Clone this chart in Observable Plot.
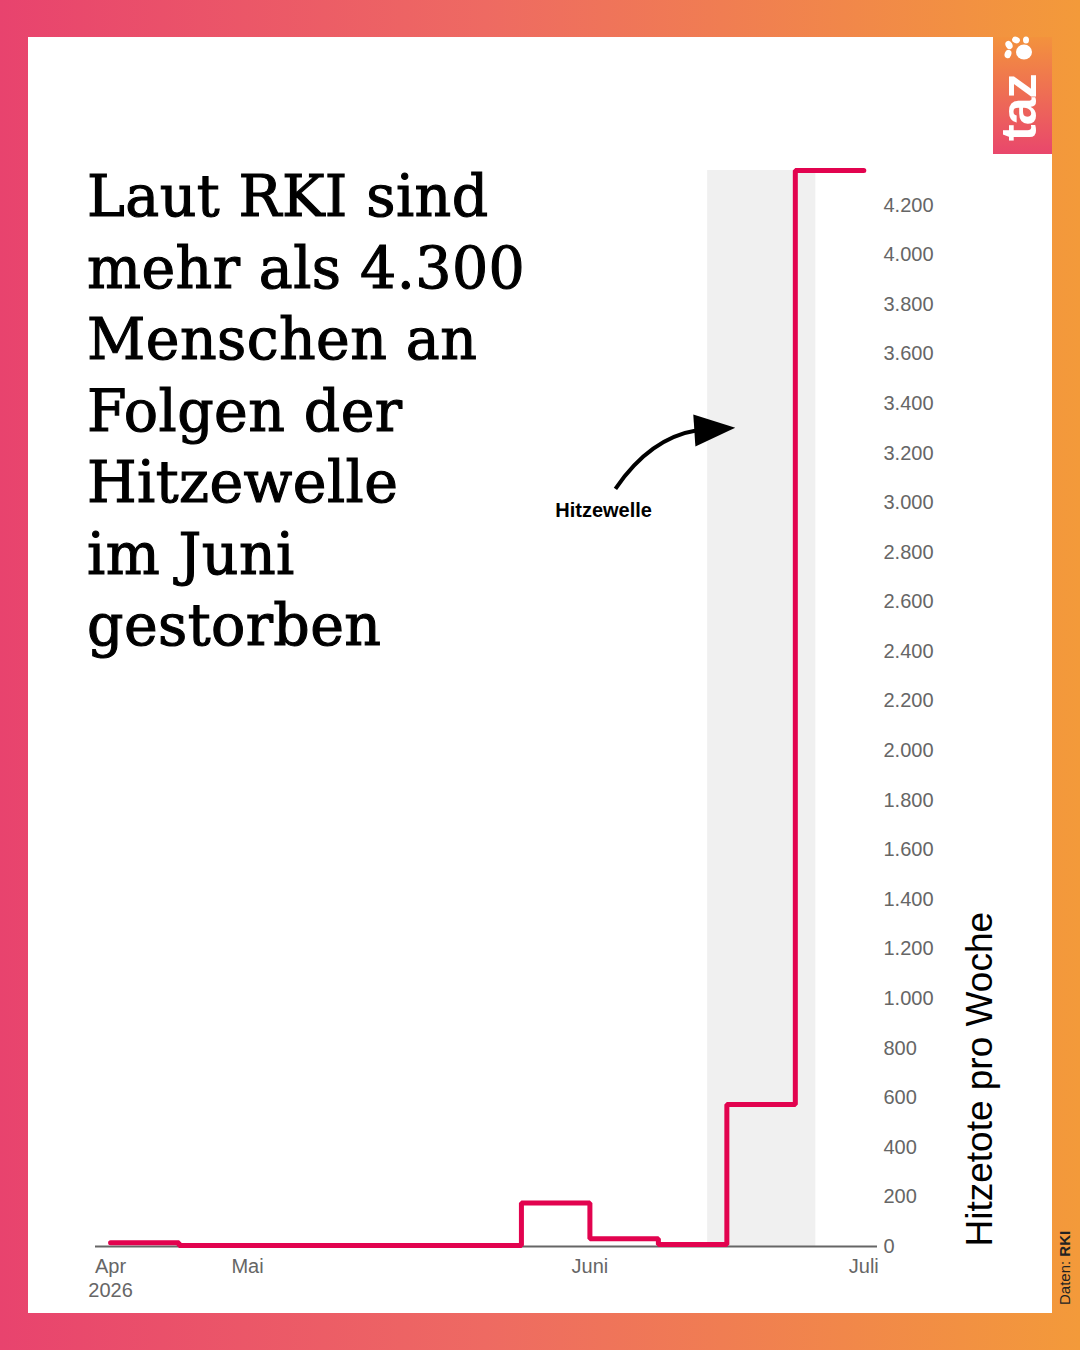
<!DOCTYPE html>
<html>
<head>
<meta charset="utf-8">
<script src="https://cdn.jsdelivr.net/npm/d3@7"></script>
<script src="https://cdn.jsdelivr.net/npm/@observablehq/plot@0.6"></script>
<style>
  html, body { margin: 0; padding: 0; background: #fff; }
  #page { position: relative; width: 1080px; height: 1350px; overflow: hidden;
          background: linear-gradient(90deg, #e8436e 0%, #ee6a62 45%, #f39a3a 100%); }
  #card { position: absolute; left: 28px; top: 37px; width: 1024px; height: 1276px; background: #fff; }
  #chart { position: absolute; left: 0; top: 0; }
  #title { position: absolute; left: 87px; top: 161px; font-family: "DejaVu Serif", serif;
           font-size: 57px; line-height: 71.5px; color: #000; margin: 0; font-weight: normal;
           letter-spacing: 0.4px; -webkit-text-stroke: 1.1px #000; }
  #deco { position: absolute; left: 0; top: 0; pointer-events: none; }
</style>
</head>
<body>
<div id="page">
  <div id="card"></div>
  <div id="chart"></div>
  <h1 id="title">Laut RKI sind<br>mehr als 4.300<br>Menschen an<br>Folgen der<br>Hitzewelle<br>im Juni<br>gestorben</h1>
  <svg id="deco" width="1080" height="1350">
    <defs>
      <linearGradient id="logoGrad" x1="0" y1="0" x2="0" y2="1">
        <stop offset="0" stop-color="#f3923d"/>
        <stop offset="1" stop-color="#e9476c"/>
      </linearGradient>
    </defs>
    <rect x="993" y="37" width="59" height="117" fill="url(#logoGrad)"/>
    <g fill="#fff">
      <ellipse cx="1024" cy="52" rx="8" ry="7.5"/>
      <ellipse cx="1008" cy="54" rx="3.3" ry="4.3" transform="rotate(20 1008 54)"/>
      <ellipse cx="1009" cy="45" rx="3.3" ry="4.3" transform="rotate(-30 1009 45)"/>
      <ellipse cx="1016" cy="40" rx="3.3" ry="4" transform="rotate(-70 1016 40)"/>
      <ellipse cx="1026" cy="40" rx="3" ry="3.5"/>
    </g>
    <text transform="translate(1036,141) rotate(-90)" fill="#fff" font-family="Liberation Sans, Arial, sans-serif"
          font-weight="bold" font-size="50" letter-spacing="-1">taz</text>
    <text transform="translate(1070,1305) rotate(-90)" fill="#222" font-family="Liberation Sans, Arial, sans-serif"
          font-size="15">Daten: <tspan font-weight="bold">RKI</tspan></text>
  </svg>
</div>
<script>
// ---- data ----
const weeks = [0, 1, 2, 3, 4, 5, 6, 7, 8, 9, 10, 11];
const deaths = [15, 4, 4, 4, 4, 4, 175, 31, 8, 573, 4340, 4340];
const xTickPositions = [0, 2, 7, 11];
const xTickLabels = ["Apr\n2026", "Mai", "Juni", "Juli"];
const yTicks = d3.range(0, 4201, 200);
const yLabel = "Hitzetote pro Woche";
const heatwaveStart = 8.72;
const heatwaveEnd = 10.3;
const heatwaveTop = 4340;
const annotationLabel = "Hitzewelle";
const annotationPos = {week: 7.2, value: 2969};
const arrowFrom = {week: 7.38, value: 3054};
const arrowTo = {week: 9.13, value: 3300};

const lineData = weeks.map((w, i) => ({week: w, value: deaths[i]}));
const heatwave = [{start: heatwaveStart, end: heatwaveEnd, top: heatwaveTop}];
const tickLabelMap = new Map(xTickPositions.map((p, i) => [p, xTickLabels[i]]));
const de = d3.formatLocale({decimal: ",", thousands: ".", grouping: [3], currency: ["", " €"]});
const fmt = de.format(",d");

const arrowMark = (index, scales) => {
  const sx = scales.x(arrowFrom.week), sy = scales.y(arrowFrom.value);
  const tx = scales.x(arrowTo.week), ty = scales.y(arrowTo.value);
  const ang = Math.atan2(-2.7, 41);
  const ux = Math.cos(ang), uy = Math.sin(ang);
  const headLen = 41, halfW = 16;
  const bx = tx - headLen * ux, by = ty - headLen * uy;
  const cx = sx + (bx - sx) * 0.44, cy = by + (sy - by) * 0.125;
  const g = d3.create("svg:g");
  g.append("path")
    .attr("d", `M${sx},${sy}Q${cx},${cy} ${bx + 3 * ux},${by + 3 * uy}`)
    .attr("fill", "none").attr("stroke", "#000").attr("stroke-width", 4);
  g.append("path")
    .attr("d", `M${tx},${ty}L${bx - halfW * uy},${by + halfW * ux}L${bx + halfW * uy},${by - halfW * ux}Z`)
    .attr("fill", "#000");
  return g.node();
};

const chart = Plot.plot({
  width: 1080,
  height: 1350,
  marginLeft: 95,
  marginRight: 203,
  marginTop: 170,
  marginBottom: 104,
  x: {domain: [-0.22, 11.2]},
  y: {domain: [0, 4340]},
  style: {fontFamily: "Liberation Sans, Arial, sans-serif", fontSize: "20px", background: "transparent", overflow: "visible", color: "#666"},
  marks: [
    Plot.rect(heatwave, {x1: "start", x2: "end", y1: 0, y2: "top", fill: "#f0f0f0"}),
    Plot.ruleY([0], {stroke: "#666", strokeWidth: 2}),
    Plot.axisY({anchor: "right", ticks: yTicks, tickSize: 0, tickPadding: 6, tickFormat: fmt, label: null, fontSize: 20, fill: "#666"}),
    Plot.axisX({ticks: xTickPositions, tickFormat: d => tickLabelMap.get(d), tickSize: 0, tickPadding: 9, lineHeight: 1.2, label: null, fontSize: 20, fill: "#666"}),
    Plot.line(lineData, {x: "week", y: "value", curve: "step-after", stroke: "#e2034f", strokeWidth: 5, strokeLinecap: "round", strokeLinejoin: "miter"}),
    Plot.text([yLabel], {frameAnchor: "bottom-right", dx: 114, rotate: -90, textAnchor: "start", fontSize: 37, fill: "#000"}),
    Plot.text([annotationPos], {x: "week", y: "value", text: () => annotationLabel, fontWeight: "bold", fontSize: 20, fill: "#000"}),
    arrowMark
  ]
});
document.getElementById("chart").appendChild(chart);
</script>
</body>
</html>
